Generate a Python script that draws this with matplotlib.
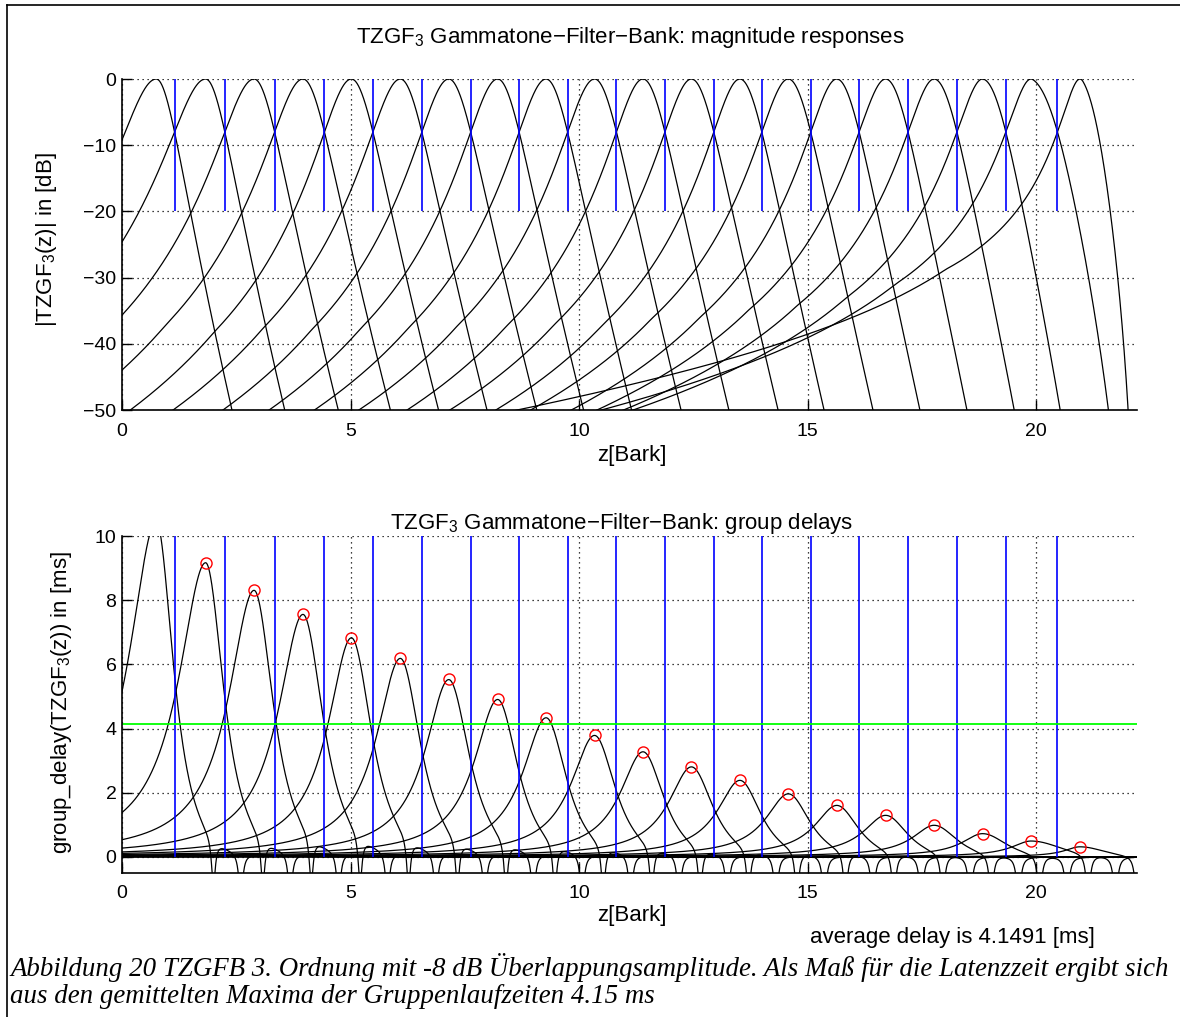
import numpy as np
import matplotlib
matplotlib.use("Agg")
import matplotlib.pyplot as plt

plt.rcParams['font.family'] = ['Liberation Sans', 'DejaVu Sans']
plt.rcParams['mathtext.fontset'] = 'custom'
plt.rcParams['mathtext.rm'] = 'Liberation Sans'
plt.rcParams['mathtext.it'] = 'Liberation Sans:italic'

# filter centres on the Bark axis
centres = [0.75, 1.83, 2.89, 3.96, 5.02, 6.09, 7.15, 8.22, 9.28, 10.34,
           11.40, 12.46, 13.52, 14.58, 15.64, 16.71, 17.77, 18.83, 19.89, 20.96]
# where neighbouring filters cross at the overlap level
crossings = [1.15, 2.25, 3.34, 4.43, 5.49, 6.56, 7.63, 8.69, 9.75, 10.82,
             11.88, 12.95, 14.00, 15.07, 16.13, 17.20, 18.27, 19.34, 20.47]
# maximum group delay of every channel in ms
peak_delay = [10.45, 9.17, 8.31, 7.56, 6.83, 6.19, 5.53, 4.91, 4.34, 3.79,
              3.28, 2.81, 2.39, 1.97, 1.61, 1.30, 0.99, 0.73, 0.50, 0.32]
avg_delay = 4.1491
overlap_db = -8.0
order = 3
fs = 22050.0
z_max = 22.21
bend = 0.05          # extra steepness of the upper flank
nyq_weight = 0.75    # strength of the zeros at fs/2
skirt_slope = 0.9    # dB per Bark on the far lower skirt
skirt_start = 3.0
# notches in the group delay above each centre (offset in Bark)
notch_pos = [1.25, 1.85]
notch_depth = 1.5
notch_width = 0.05

z = np.linspace(0.0, z_max, 6000)


def bark_to_hz(b):
    return 1960.0 * (b + 0.53) / (26.28 - b)


def nyq(b):
    c = np.maximum(np.cos(np.pi * bark_to_hz(b) / fs), 1e-12)
    return nyq_weight * 60.0 * np.log10(c)


def warp(f, fc, bl, br):
    d = f - fc
    return np.where(d < 0, d / bl, d / br * (1 + bend * (d / br) ** 2))


def u_for(level):
    return np.sqrt(10 ** (-level / (10 * order)) - 1)


def solve_right(fr, fc, level):
    # invert u = x (1 + bend x^2) for x
    u = u_for(level)
    x = u
    for i in range(30):
        x = u / (1 + bend * x ** 2)
    return (fr - fc) / x


params = []
for k in range(len(centres)):
    c = centres[k]
    zl = crossings[k - 1] if k > 0 else c - (centres[1] - crossings[0])
    zr = crossings[k] if k < len(crossings) else None
    cc, m = c, 0.0
    fine = np.linspace(max(c - 1.5, 0), min(c + 1.5, z_max), 3001)
    for it in range(12):
        fc = bark_to_hz(cc)
        bl = (fc - bark_to_hz(zl)) / u_for(overlap_db + m - (nyq(zl) - nyq(cc)))
        if zr is not None:
            br = solve_right(bark_to_hz(zr), fc, overlap_db + m - (nyq(zr) - nyq(cc)))
        else:
            br = bl * params[-1][3] / params[-1][2]
        raw = -10 * order * np.log10(1 + warp(bark_to_hz(fine), fc, bl, br) ** 2) + nyq(fine) - nyq(cc)
        m = raw.max()
        cc += c - fine[raw.argmax()]
    params.append((cc, m, bl, br))

fig = plt.figure(figsize=(11.8, 10.17), dpi=100)
ax1 = fig.add_axes([122 / 1180, 1 - 410 / 1017, 1015 / 1180, 331 / 1017])
ax2 = fig.add_axes([122 / 1180, 1 - 873 / 1017, 1015 / 1180, 337 / 1017])

fz = bark_to_hz(z)
for k in range(len(centres)):
    cc, m, bl, br = params[k]
    u = warp(fz, bark_to_hz(cc), bl, br)
    mag = -10 * order * np.log10(1 + u ** 2) + nyq(z) - nyq(cc) - m
    mag = mag - skirt_slope * np.maximum(cc - z - skirt_start, 0)
    ax1.plot(z, mag, color='k', lw=0.9)

    u = warp(fz, bark_to_hz(centres[k]), bl, br)
    gd = peak_delay[k] / (1 + u ** 2)
    for p in notch_pos:
        gd = gd - notch_depth / (1 + ((z - centres[k] - p) / notch_width) ** 2)
    ax2.plot(z, gd, color='k', lw=0.9)

ax1.vlines(crossings, -20, 0, color='b', lw=1.2)
ax2.vlines(crossings, 0, 10, color='b', lw=1.2)
ax2.plot(centres[1:], peak_delay[1:], 'o', mfc='none', mec='r', ms=8, mew=1.0)
ax2.axhline(avg_delay, color=(0, 1, 0), lw=1.3)

for ax in (ax1, ax2):
    ax.set_xlim(0, z_max)
    ax.set_xticks([0, 5, 10, 15, 20])
    ax.spines['top'].set_visible(False)
    ax.spines['right'].set_visible(False)
    ax.spines['left'].set_linewidth(1.2)
    ax.spines['bottom'].set_linewidth(1.2)
    ax.grid(True, color='k', linestyle=(0, (1, 3)), linewidth=0.9)
    ax.tick_params(direction='in', length=7, width=1, labelsize=14)
    ax.tick_params(axis='x', pad=9)
    ax.tick_params(axis='y', pad=4)

ax1.set_ylim(-50, 0)
ax1.set_yticks([-50, -40, -30, -20, -10, 0])
ax2.set_ylim(-0.5, 10)
ax2.set_yticks([0, 2, 4, 6, 8, 10])

fig.text(630 / 1180, 1 - 38 / 1017, 'TZGF$_{\\mathrm{3}}$ Gammatone\u2212Filter\u2212Bank: magnitude responses',
         ha='center', va='center', fontsize=16)
fig.text(622 / 1180, 1 - 523 / 1017, 'TZGF$_{\\mathrm{3}}$ Gammatone\u2212Filter\u2212Bank: group delays',
         ha='center', va='center', fontsize=16)
fig.text(632 / 1180, 1 - 455 / 1017, 'z[Bark]', ha='center', va='center', fontsize=16)
fig.text(632 / 1180, 1 - 915 / 1017, 'z[Bark]', ha='center', va='center', fontsize=16)
fig.text(47 / 1180, 1 - 240 / 1017, '|TZGF$_{\\mathrm{3}}$(z)| in [dB]', rotation=90,
         ha='center', va='center', fontsize=16)
fig.text(62 / 1180, 1 - 703 / 1017, 'group_delay(TZGF$_{\\mathrm{3}}$(z)) in [ms]', rotation=90,
         ha='center', va='center', fontsize=16)
fig.text(1095 / 1180, 1 - 937 / 1017, 'average delay is %.4f [ms]' % avg_delay,
         ha='right', va='center', fontsize=16)

caption = ('Abbildung 20 TZGFB 3. Ordnung mit -8 dB \u00dcberlappungsamplitude. '
           'Als Ma\u00df f\u00fcr die Latenzzeit ergibt sich\n'
           'aus den gemittelten Maxima der Gruppenlaufzeiten 4.15 ms')
fig.text(10 / 1180, 1 - 953 / 1017, caption, ha='left', va='top', fontsize=19.4,
         family='Liberation Serif', style='italic', linespacing=1.1)

# document frame
fig.add_artist(plt.Line2D([6.5 / 1180, 6.5 / 1180], [0, 1 - 5 / 1017], color='k', lw=1.2))
fig.add_artist(plt.Line2D([6.5 / 1180, 1], [1 - 5 / 1017, 1 - 5 / 1017], color='k', lw=1.2))

fig.savefig('out.png', dpi=100)
